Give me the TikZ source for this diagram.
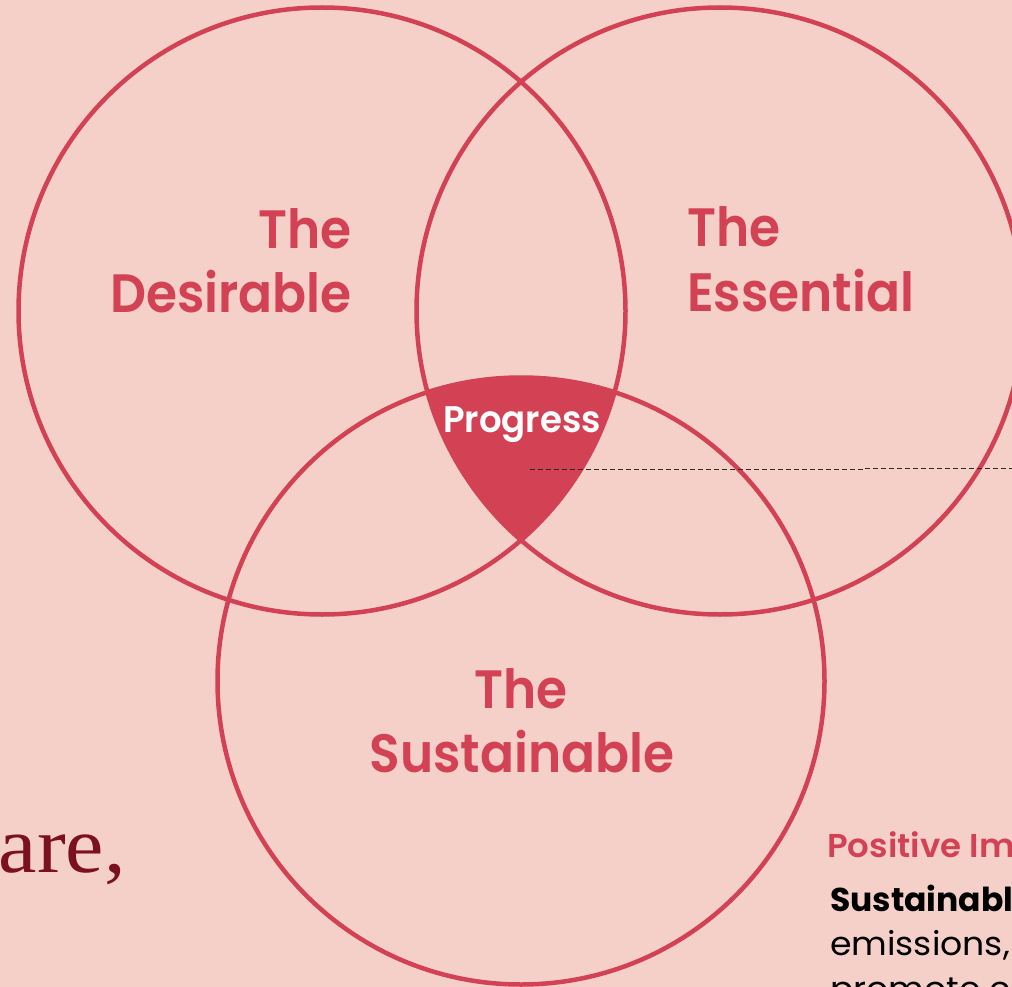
\documentclass[tikz,border=0pt]{standalone}
\usepackage{fontspec}
\setmainfont{Poppins}
\newfontfamily\labelface[FakeStretch=0.93]{Poppins SemiBold}
\newfontfamily\coreface[FakeStretch=0.96]{Poppins SemiBold}
\newfontfamily\headface[FakeStretch=1.03]{Poppins SemiBold}
\newfontfamily\bodyface[FakeStretch=1.05]{Poppins}
\newfontfamily\bookface[FakeStretch=1.08]{Liberation Serif}
\definecolor{blush}{HTML}{F5D0C9}
\definecolor{venred}{HTML}{D34155}
\definecolor{wine}{HTML}{7B1020}
\definecolor{leadgray}{HTML}{2A2A2A}
\begin{document}
\begin{tikzpicture}[x=1pt,y=-1pt,
  ring/.style={draw=venred, line width=4.5pt},
  biglabel/.style={inner sep=0pt, text=venred, font=\labelface\fontsize{54}{64}\selectfont},
  corelabel/.style={inner sep=0pt, text=white, font=\coreface\fontsize{37}{44}\selectfont},
  leader/.style={draw=leadgray, line width=1.2pt, dash pattern=on 5pt off 3pt},
  headline/.style={inner sep=0pt, text=venred, font=\headface\fontsize{33}{40}\selectfont},
  bodybold/.style={inner sep=0pt, text=black, font=\fontsize{33}{40}\selectfont\bfseries},
  bodytext/.style={inner sep=0pt, text=black, font=\bodyface\fontsize{33}{40}\selectfont},
  quote/.style={inner sep=0pt, text=wine, font=\bookface\fontsize{80}{90}\selectfont}]
\useasboundingbox (0,0) rectangle (1012,987);
\clip (0,0) rectangle (1012,987);
\fill[blush] (0,0) rectangle (1012,987);

% circle centres
\coordinate (cD) at (322,311);
\coordinate (cE) at (720,311);
\coordinate (cS) at (521,681);

% shared region of all three sets
\begin{scope}
  \clip (cD) circle (303.5pt);
  \clip (cE) circle (303.5pt);
  \fill[venred] (cS) circle (303.5pt);
\end{scope}

\draw[ring] (cD) circle (303.5pt);
\draw[ring] (cE) circle (303.5pt);
\draw[ring] (cS) circle (303.5pt);

% set labels
\node[biglabel, anchor=base east] (d1) at (352,248) {The};
\node[biglabel, anchor=base east] (d2) at (352,312) {Desirable};
\node[biglabel, anchor=base west] (e1) at (687,247) {The};
\node[biglabel, anchor=base west] (e2) at (687,311) {Essential};
\node[biglabel, anchor=base] (s1) at (521,708) {The};
\node[biglabel, anchor=base] (s2) at (522,772) {Sustainable};
\node[corelabel, anchor=base] (core) at (522,432) {Progress};

% leader line out of the core
\coordinate (leadA) at (530,469.5);
\coordinate (leadB) at (865,469.5);
\coordinate (leadC) at (865,468.5);
\coordinate (leadD) at (1012,468.5);
\draw[leader] (leadA) -- (leadB);
\draw[leader] (leadC) -- (leadD);

% side texts
\node[quote, anchor=base east] (q) at (126,872) {are,};
\node[headline, anchor=base west] (h) at (827,857) {Positive Im};
\node[bodybold, anchor=base west] (b1) at (830,911) {Sustainabl};
\node[bodytext, anchor=base west] (b2) at (830,955) {emissions,};
\node[bodytext, anchor=base west] (b3) at (830,1000) {promote c};
\end{tikzpicture}
\end{document}
